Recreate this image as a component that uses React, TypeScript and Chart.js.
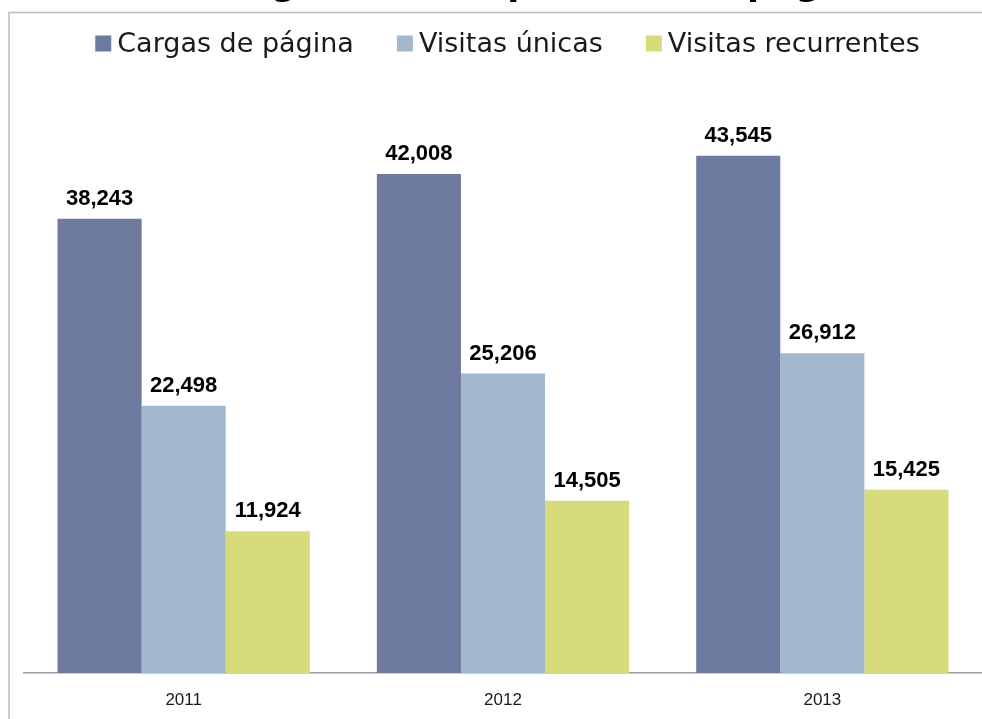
import React, { useEffect, useRef } from "react";
import { Chart, registerables } from "chart.js";

Chart.register(...registerables);

const titleText = "Tráfico general del portal de la página";
const categories = ["2011", "2012", "2013"];
const seriesNames = ["Cargas de página", "Visitas únicas", "Visitas recurrentes"];
const cargas = [38243, 42008, 43545];
const unicas = [22498, 25206, 26912];
const recurrentes = [11924, 14505, 15425];
const seriesColors = ["#6f7aa0", "#a3b8cc", "#d6dc7c"];
const yMin = 0;
const yMax = 50000;

const fmt = (v: number) => v.toLocaleString("en-US");

const decorPlugin = {
  id: "decor",
  afterDraw(chart: any) {
    const ctx = chart.ctx as CanvasRenderingContext2D;
    const W = chart.width;
    const H = chart.height;
    ctx.save();

    // outer frame (left and top edges visible)
    ctx.strokeStyle = "#bdbdbd";
    ctx.lineWidth = 1.5;
    ctx.beginPath();
    ctx.moveTo(9, H);
    ctx.lineTo(9, 12.5);
    ctx.lineTo(W, 12.5);
    ctx.stroke();

    // title (mostly cropped above the picture)
    ctx.font = 'bold 35px "DejaVu Sans"';
    ctx.fillStyle = "#000000";
    ctx.textAlign = "left";
    ctx.textBaseline = "alphabetic";
    ctx.fillText(titleText, 128, -5.5);

    // legend
    ctx.font = '27px "DejaVu Sans"';
    ctx.textBaseline = "middle";
    const box = 16;
    const gap = 6;
    const spacing = 43;
    const widths = seriesNames.map((n) => ctx.measureText(n).width);
    const total =
      widths.reduce((s, w) => s + box + gap + w, 0) + spacing * (seriesNames.length - 1);
    let x = 507.5 - total / 2;
    const cy = 43.5;
    seriesNames.forEach((name, i) => {
      ctx.fillStyle = seriesColors[i];
      ctx.fillRect(x, cy - 8, box, 16);
      ctx.fillStyle = "#1a1a1a";
      ctx.fillText(name, x + box + gap, cy + 1);
      x += box + gap + widths[i] + spacing;
    });

    // data labels
    ctx.font = 'bold 22px "Liberation Sans"';
    ctx.fillStyle = "#000000";
    ctx.textAlign = "center";
    ctx.textBaseline = "middle";
    chart.data.datasets.forEach((ds: any, i: number) => {
      const meta = chart.getDatasetMeta(i);
      meta.data.forEach((bar: any, j: number) => {
        ctx.fillText(fmt(ds.data[j]), bar.x, bar.y - 20);
      });
    });

    ctx.restore();
  },
};

export default function App() {
  const ref = useRef<HTMLCanvasElement | null>(null);

  useEffect(() => {
    if (!ref.current) return;
    const chart = new Chart(ref.current, {
      type: "bar",
      data: {
        labels: categories,
        datasets: [
          { label: seriesNames[0], data: cargas, backgroundColor: seriesColors[0] },
          { label: seriesNames[1], data: unicas, backgroundColor: seriesColors[1] },
          { label: seriesNames[2], data: recurrentes, backgroundColor: seriesColors[2] },
        ],
      },
      options: {
        responsive: false,
        animation: false,
        devicePixelRatio: 1,
        layout: { padding: { left: 24, right: 0, top: 79, bottom: 0 } },
        datasets: {
          bar: { barPercentage: 1, categoryPercentage: 0.79, borderWidth: 0 },
        },
        plugins: {
          legend: { display: false },
          title: { display: false },
          tooltip: { enabled: false },
        },
        scales: {
          x: {
            grid: { display: false, drawTicks: false },
            border: { display: true, color: "#9e9e9e", width: 1.5 },
            ticks: {
              color: "#1a1a1a",
              padding: 17,
              font: { family: '"Liberation Sans"', size: 17 },
            },
            afterFit: (scale: any) => {
              scale.height = 46;
            },
          },
          y: {
            display: false,
            min: yMin,
            max: yMax,
          },
        },
      },
      plugins: [decorPlugin],
    });
    return () => chart.destroy();
  }, []);

  return (
    <div style={{ position: "fixed", left: 0, top: 0, width: 982, height: 719, background: "#ffffff" }}>
      <canvas ref={ref} width={982} height={719} style={{ display: "block" }} />
    </div>
  );
}
